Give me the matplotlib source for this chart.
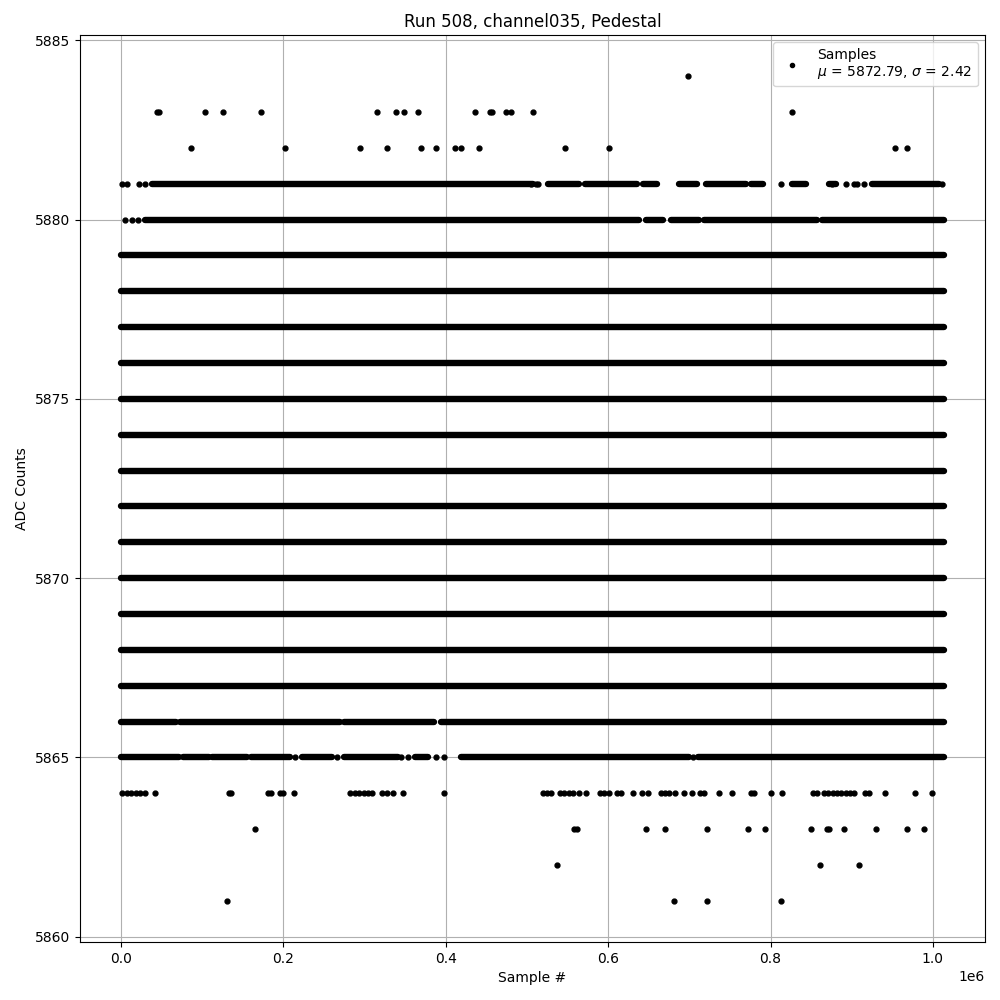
import matplotlib
matplotlib.use("Agg")
import matplotlib.pyplot as plt

# sample numbers are given in millions
SCALE = 1e6
END = 1.0135

# levels that are filled over the whole run
full_levels = [5867, 5868, 5869, 5870, 5871, 5872, 5873, 5874, 5875, 5876, 5877, 5878, 5879]

# levels with gaps: (start, end) stretches of dense samples
seg_5881 = [(0.0385, 0.507), (0.5256, 0.5646), (0.5720, 0.6351), (0.6433, 0.6601),
            (0.6867, 0.7089), (0.7204, 0.7696), (0.7753, 0.7913), (0.8262, 0.8442),
            (0.8721, 0.8803), (0.9246, 1.0074)]
seg_5880 = [(0.0295, 0.6384), (0.6466, 0.6670), (0.6773, 0.7122), (0.7183, 0.8577),
            (0.8639, END)]
seg_5866 = [(0.0, 0.067), (0.073, 0.269), (0.274, 0.385), (0.394, END)]
seg_5865 = [(0.0, 0.0717), (0.0766, 0.1086), (0.1115, 0.1546), (0.1595, 0.2079),
            (0.2230, 0.2592), (0.2743, 0.3411), (0.3616, 0.3780), (0.4190, 0.6999),
            (0.7101, END)]

# single samples
pts_5884 = [0.6978]
pts_5883 = [0.0447, 0.0468, 0.1037, 0.1258, 0.1726, 0.3149, 0.3386, 0.3485, 0.3657,
            0.4358, 0.4539, 0.4563, 0.4736, 0.4801, 0.5071, 0.827]
pts_5882 = [0.0865, 0.2021, 0.2944, 0.3276, 0.3694, 0.3878, 0.4112, 0.4186, 0.4407,
            0.5469, 0.6007, 0.9537, 0.9684]
pts_5881 = [0.0009, 0.007, 0.0225, 0.0295, 0.511, 0.5051, 0.5133, 0.8134, 0.8754,
            0.8926, 0.9028, 0.9069, 0.9151, 1.0115]
pts_5880 = [0.0049, 0.0131, 0.0213]
pts_5865 = [0.2144, 0.2661, 0.3452, 0.3534, 0.3883, 0.3977, 0.7039]
pts_5864 = [0.0016, 0.007, 0.0123, 0.0181, 0.0237, 0.0295, 0.0422, 0.1332, 0.1353,
            0.1812, 0.1841, 0.1956, 0.1988, 0.2132, 0.2825, 0.2878, 0.2931, 0.2989,
            0.3042, 0.3096, 0.3219, 0.3276, 0.335, 0.3472, 0.3977,
            0.5194, 0.5248, 0.5301, 0.5408, 0.5461, 0.5514, 0.5568, 0.5637, 0.5728,
            0.5900, 0.5953, 0.6006, 0.6105, 0.6159, 0.6301, 0.6412, 0.6494, 0.6651,
            0.6704, 0.6753, 0.6823, 0.6929, 0.7027, 0.7130, 0.7183, 0.7359, 0.7519,
            0.7753, 0.7802, 0.8004, 0.8139, 0.8524, 0.8577, 0.8659, 0.8712, 0.8766,
            0.8819, 0.8872, 0.8926, 0.8979, 0.9032, 0.9164, 0.9213, 0.9406, 0.9775,
            0.9991]
pts_5863 = [0.1652, 0.558, 0.561, 0.6462, 0.6695, 0.7212, 0.7728, 0.7937, 0.8503,
            0.8692, 0.8717, 0.8909, 0.9303, 0.9684, 0.9893]
pts_5862 = [0.5367, 0.8614, 0.9094]
pts_5861 = [0.1308, 0.6806, 0.7212, 0.8134]

mean_adc = 5872.79
sigma_adc = 2.42


def main():
    fig, ax = plt.subplots(figsize=(10, 10), dpi=100)
    band_lw = 4.6

    # dense stretches
    segments = {lvl: [(0.0, END)] for lvl in full_levels}
    segments[5881] = seg_5881
    segments[5880] = seg_5880
    segments[5866] = seg_5866
    segments[5865] = seg_5865
    for lvl, segs in segments.items():
        x0 = [s[0] * SCALE for s in segs]
        x1 = [s[1] * SCALE for s in segs]
        lc = ax.hlines([lvl] * len(segs), x0, x1, colors="k", linewidth=band_lw)
        lc.set_capstyle("round")

    # single samples
    singles = {5884: pts_5884, 5883: pts_5883, 5882: pts_5882, 5881: pts_5881,
               5880: pts_5880, 5865: pts_5865, 5864: pts_5864, 5863: pts_5863,
               5862: pts_5862, 5861: pts_5861}
    xs, ys = [], []
    for lvl, pts in singles.items():
        xs += [p * SCALE for p in pts]
        ys += [lvl] * len(pts)
    ax.plot(xs, ys, "k.", markersize=7, linestyle="none",
            label=f"Samples\n$\\mu$ = {mean_adc:.2f}, $\\sigma$ = {sigma_adc:.2f}")

    ax.set_title("Run 508, channel035, Pedestal")
    ax.set_xlabel("Sample #")
    ax.set_ylabel("ADC Counts")
    ax.grid(True)
    ax.legend(loc="upper right", markerscale=0.85)
    fig.subplots_adjust(left=0.08, right=0.985, top=0.965, bottom=0.058)
    plt.savefig("out.png", dpi=100)


if __name__ == "__main__":
    main()
